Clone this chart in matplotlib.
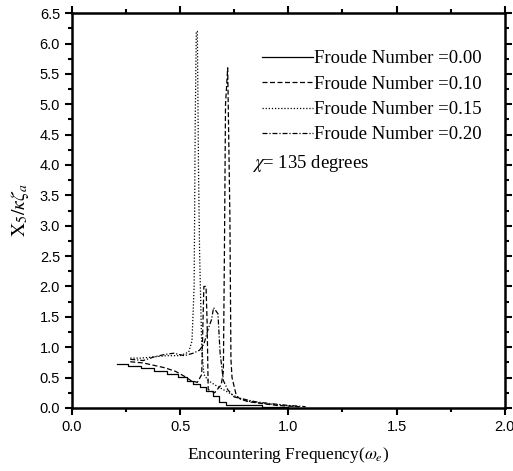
import matplotlib
matplotlib.use("Agg")
import matplotlib.pyplot as plt
from matplotlib.ticker import MultipleLocator

# Encountering frequency vs. pitch response
w0 = [0.21, 0.26, 0.26, 0.32, 0.32, 0.38, 0.38, 0.44, 0.44, 0.49, 0.49, 0.53, 0.53,
      0.56, 0.56, 0.59, 0.59, 0.62, 0.62, 0.65, 0.65, 0.68, 0.68, 0.71, 0.71, 0.88, 0.88, 1.0]
r0 = [0.72, 0.72, 0.69, 0.69, 0.65, 0.65, 0.61, 0.61, 0.56, 0.56, 0.51, 0.51, 0.45,
      0.45, 0.40, 0.40, 0.34, 0.34, 0.28, 0.28, 0.20, 0.20, 0.10, 0.10, 0.04, 0.04, 0.01, 0.01]

w1 = [0.27, 0.33, 0.38, 0.43, 0.48, 0.52, 0.55, 0.58, 0.60, 0.605, 0.61, 0.62, 0.625,
      0.63, 0.66, 0.69, 0.70, 0.705, 0.71, 0.72, 0.73, 0.735, 0.74, 0.76, 0.78, 0.82,
      0.88, 0.95, 1.05]
r1 = [0.76, 0.74, 0.70, 0.66, 0.60, 0.52, 0.45, 0.42, 0.55, 1.30, 2.00, 2.00, 1.40,
      0.30, 0.25, 0.38, 0.60, 2.60, 5.00, 5.60, 3.20, 0.80, 0.50, 0.20, 0.14, 0.10,
      0.07, 0.04, 0.02]

w2 = [0.27, 0.32, 0.38, 0.44, 0.50, 0.54, 0.555, 0.565, 0.57, 0.575, 0.58, 0.585,
      0.59, 0.60, 0.61, 0.63, 0.66, 0.70, 0.75, 0.80, 0.87, 0.95, 1.05]
r2 = [0.82, 0.82, 0.84, 0.86, 0.86, 0.92, 1.10, 2.00, 4.70, 6.20, 6.20, 4.00,
      2.60, 1.00, 0.55, 0.45, 0.38, 0.30, 0.20, 0.12, 0.08, 0.05, 0.02]

w3 = [0.27, 0.33, 0.38, 0.43, 0.47, 0.52, 0.56, 0.59, 0.61, 0.63, 0.645, 0.655,
      0.665, 0.675, 0.685, 0.70, 0.72, 0.75, 0.80, 0.85, 0.92, 1.00, 1.08]
r3 = [0.80, 0.78, 0.84, 0.88, 0.90, 0.86, 0.90, 0.95, 1.05, 1.30, 1.45, 1.65,
      1.60, 1.55, 0.90, 0.45, 0.30, 0.18, 0.14, 0.10, 0.07, 0.04, 0.02]

labels = ["Froude Number =0.00", "Froude Number =0.10",
          "Froude Number =0.15", "Froude Number =0.20"]

plt.rcParams["mathtext.fontset"] = "stix"

fig = plt.figure(figsize=(5.13, 4.71), dpi=100)
ax = fig.add_axes([0.140, 0.134, 0.844, 0.838])

ax.plot(w0, r0, color="black", lw=0.9, ls="-", label=labels[0])
ax.plot(w1, r1, color="black", lw=0.9, ls=(0, (4, 2)), label=labels[1])
ax.plot(w2, r2, color="black", lw=0.9, ls=(0, (1, 1.5)), label=labels[2])
ax.plot(w3, r3, color="black", lw=0.9, ls=(0, (4, 1.5, 1, 1.5)), label=labels[3])

ax.set_xlim(0, 2.0)
ax.set_ylim(0, 6.5)
ax.xaxis.set_major_locator(MultipleLocator(0.5))
ax.xaxis.set_minor_locator(MultipleLocator(0.25))
ax.yaxis.set_major_locator(MultipleLocator(0.5))
ax.yaxis.set_minor_locator(MultipleLocator(0.25))
ax.tick_params(which="both", direction="out", top=True, right=True,
               width=1.5, labelsize=10.5)
ax.tick_params(which="major", length=5)
ax.tick_params(which="minor", length=3)
for lab in ax.get_xticklabels() + ax.get_yticklabels():
    lab.set_family("Liberation Sans")
for s in ax.spines.values():
    s.set_linewidth(1.8)

ax.set_xlabel(r"Encountering Frequency($\omega_e$)", family="Liberation Serif",
              fontsize=12.5, labelpad=8)
ax.set_ylabel(r"$\mathrm{X}_5/\kappa\zeta_a$", fontsize=14, labelpad=6)

leg = ax.legend(loc="upper left", bbox_to_anchor=(0.400, 0.949), frameon=False,
                prop={"family": "Liberation Serif", "size": 13.5},
                handlelength=2.7, handletextpad=0.1, labelspacing=0.44)
ax.text(0.416, 0.620, r"$\chi$= 135 degrees", transform=ax.transAxes,
        family="Liberation Serif", fontsize=13.5, va="center")

fig.savefig("out.png", dpi=100)
